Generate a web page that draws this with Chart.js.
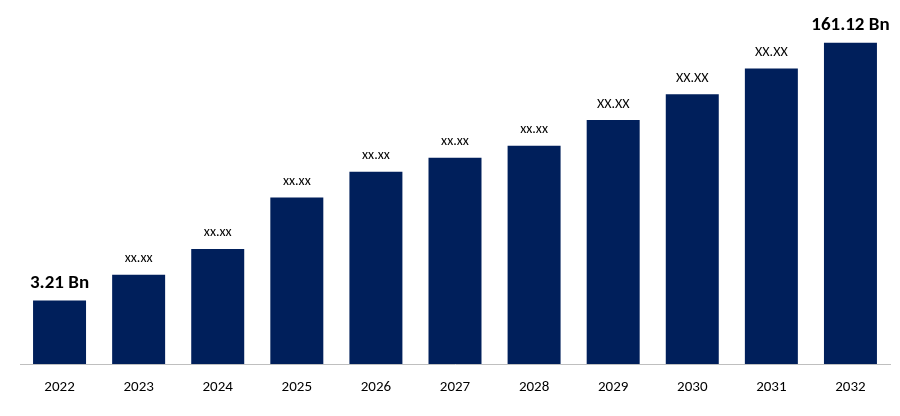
<!DOCTYPE html>
<html>
<head>
<meta charset="utf-8">
<script src="https://cdn.jsdelivr.net/npm/chart.js@4/dist/chart.umd.min.js"></script>
<style>
  html, body { margin: 0; padding: 0; background: #fff; }
  #wrap { width: 900px; height: 416px; }
</style>
</head>
<body>
<div id="wrap"><canvas id="myChart"></canvas></div>
<script>
const years = ["2022","2023","2024","2025","2026","2027","2028","2029","2030","2031","2032"];
const values = [64, 90, 116, 168, 194, 208, 220, 246, 272, 298, 324];
const valueLabels = ["3.21 Bn","xx.xx","xx.xx","xx.xx","xx.xx","xx.xx","xx.xx","XX.XX","XX.XX","XX.XX","161.12 Bn"];

const barLabels = {
  id: 'barLabels',
  afterDatasetsDraw(chart) {
    const ctx = chart.ctx;
    const meta = chart.getDatasetMeta(0);
    ctx.save();
    ctx.textAlign = 'center';
    ctx.textBaseline = 'bottom';
    ctx.fillStyle = '#000';
    meta.data.forEach((bar, i) => {
      const big = i === 0 || i === meta.data.length - 1;
      ctx.font = big ? 'bold 19px Calibri, Carlito, "Liberation Sans", sans-serif'
                     : '14px Calibri, Carlito, "Liberation Sans", sans-serif';
      ctx.fillText(valueLabels[i], bar.x, bar.y - (big ? 8 : 9));
    });
    ctx.restore();
  }
};

new Chart("myChart", {
  type: "bar",
  data: {
    labels: years,
    datasets: [{
      backgroundColor: "#001f5b",
      data: values,
      barPercentage: 0.67,
      categoryPercentage: 1.0
    }]
  },
  options: {
    responsive: true,
    maintainAspectRatio: false,
    animation: false,
    layout: { padding: { left: 20, right: 10, top: 10, bottom: 6 } },
    plugins: { legend: { display: false }, tooltip: { enabled: false } },
    scales: {
      x: {
        grid: { display: false, drawTicks: false },
        border: { color: '#bfbfbf', width: 1 },
        ticks: { color: '#000', padding: 14, font: { size: 15, family: 'Calibri, Carlito, "Liberation Sans", sans-serif' } }
      },
      y: {
        display: false,
        min: 0,
        max: 357
      }
    }
  },
  plugins: [barLabels]
});
</script>
</body>
</html>
